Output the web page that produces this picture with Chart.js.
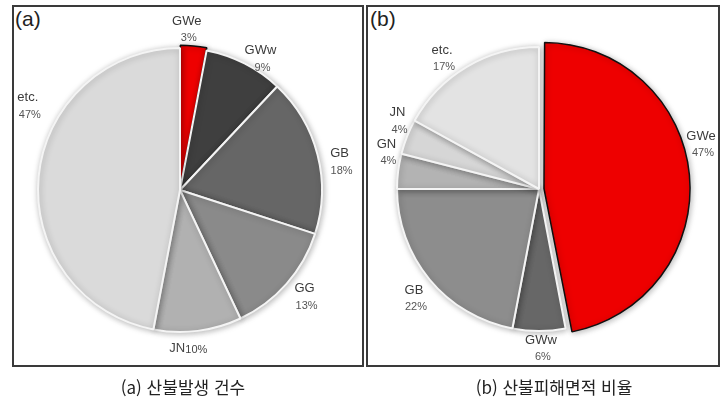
<!DOCTYPE html>
<html lang="ko">
<head>
<meta charset="utf-8">
<script src="https://cdn.jsdelivr.net/npm/chart.js@4"></script>
<style>
  html, body { margin: 0; padding: 0; background: #fff; }
  body { width: 723px; height: 404px; position: relative; overflow: hidden; }
  .frame { position: absolute; top: 5px; height: 362px; box-sizing: border-box; border: 2px solid #3a3a3a; }
  .tag { position: absolute; top: 7px; font: 21px "Liberation Sans", Arial, sans-serif; color: #222; line-height: 24px; }
  .cap { position: absolute; top: 374px; font: 17px "Noto Sans CJK KR", sans-serif; color: #222; text-align: center; width: 300px; }
  canvas { position: absolute; top: 0; }
</style>
</head>
<body>
<div class="frame" style="left:12px;width:352px"></div>
<div class="frame" style="left:366px;width:354px"></div>
<div class="tag" style="left:15px">(a)</div>
<div class="tag" style="left:370px">(b)</div>
<canvas id="c-count" width="362" height="380" style="left:-1px"></canvas>
<canvas id="c-area" width="362" height="378" style="left:358px"></canvas>
<div class="cap" style="left:33px">(a) 산불발생 건수</div>
<div class="cap" style="left:404px">(b) 산불피해면적 비율</div>

<script>
// fire counts by region (%)
const countLabels = ['GWe', 'GWw', 'GB', 'GG', 'JN', 'etc.'];
const countValues = [3, 9, 18, 13, 10, 47];

// burned area share by region (%)
const areaLabels = ['GWe', 'GWw', 'GB', 'GN', 'JN', 'etc.'];
const areaValues = [47, 6, 22, 4, 4, 17];

const RED = '#ee0000';

// region name + percentage drawn just outside each slice
const sliceLabels = {
    id: 'sliceLabels',
    afterDatasetsDraw(chart, args, opts) {
        const ctx = chart.ctx;
        const meta = chart.getDatasetMeta(0);
        const vals = chart.data.datasets[0].data;
        const names = chart.data.labels;
        meta.data.forEach((arc, i) => {
            const p = arc.getProps(['x', 'y', 'startAngle', 'endAngle', 'outerRadius'], true);
            const a = (p.startAngle + p.endAngle) / 2 + (opts.nudge[i] || 0) * Math.PI / 180;
            const d = p.outerRadius + opts.gap[i];
            const lx = p.x + Math.cos(a) * d;
            const ly = p.y + Math.sin(a) * d;
            ctx.save();
            ctx.textBaseline = 'middle';
            if (opts.inline === i) {
                // name and value on one line
                ctx.font = '13px "Liberation Sans", Arial, sans-serif';
                const w1 = ctx.measureText(names[i]).width;
                ctx.font = '11px "Liberation Sans", Arial, sans-serif';
                const w2 = ctx.measureText(vals[i] + '%').width;
                const x0 = lx - (w1 + w2) / 2;
                ctx.textAlign = 'left';
                ctx.fillStyle = '#444';
                ctx.font = '13px "Liberation Sans", Arial, sans-serif';
                ctx.fillText(names[i], x0, ly);
                ctx.font = '11px "Liberation Sans", Arial, sans-serif';
                ctx.fillText(vals[i] + '%', x0 + w1, ly + 1);
            } else {
                ctx.textAlign = 'center';
                ctx.fillStyle = '#3a3a3a';
                ctx.font = '13px "Liberation Sans", Arial, sans-serif';
                ctx.fillText(names[i], lx, ly - 8);
                ctx.fillStyle = '#555';
                ctx.font = '11px "Liberation Sans", Arial, sans-serif';
                ctx.fillText(vals[i] + '%', lx + 2, ly + 9);
            }
            ctx.restore();
        });
    }
};

// soft drop shadow under the pie
const pieShadow = {
    id: 'pieShadow',
    beforeDatasetDraw(chart) {
        const ctx = chart.ctx;
        ctx.save();
        ctx.shadowColor = 'rgba(0,0,0,0.28)';
        ctx.shadowBlur = 6;
        ctx.shadowOffsetX = 1;
        ctx.shadowOffsetY = 1;
    },
    afterDatasetDraw(chart) {
        chart.ctx.restore();
    }
};

function makePie(id, labels, values, colors, offsets, radius, labelOpts) {
    return new Chart(document.getElementById(id), {
        type: 'pie',
        data: {
            labels: labels,
            datasets: [{
                data: values,
                backgroundColor: colors,
                borderColor: colors.map(c => c === RED ? '#111' : '#f4f4f4'),
                borderWidth: colors.map(c => c === RED ? 1.5 : 2),
                offset: offsets,   // arc draws offset / 4 px
                radius: radius
            }]
        },
        options: {
            responsive: false,
            animation: false,
            events: [],
            layout: { padding: 0 },
            plugins: {
                legend: { display: false },
                tooltip: { enabled: false },
                sliceLabels: labelOpts
            }
        },
        plugins: [pieShadow, sliceLabels]
    });
}

makePie('c-count', countLabels, countValues,
    [RED, '#3f3f3f', '#666666', '#8a8a8a', '#b1b1b1', '#dadada'],
    [6, 0, 0, 0, 0, 0], 142,
    { nudge: [-3, 4.5, 4.4, -0.8, 4.2, 23.6], gap: [19, 12, 20, 22, 17, 32], inline: 4 });

makePie('c-area', areaLabels, areaValues,
    [RED, '#676767', '#8d8d8d', '#b3b3b3', '#d6d6d6', '#e3e3e3'],
    [20, 0, 0, 0, 0, 0], 142,
    { nudge: [-10, -0.7, -1.5, 6.4, 4.1, -5.9], gap: [26, 17, 24, 15, 15, 21], inline: -1 });
</script>
</body>
</html>
